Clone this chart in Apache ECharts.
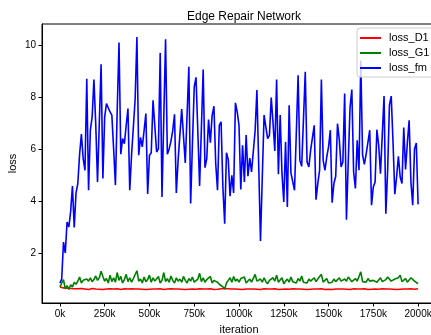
<!DOCTYPE html>
<html>
<head>
<meta charset="utf-8">
<script src="https://cdn.jsdelivr.net/npm/echarts@6/dist/echarts.min.js"></script>
<style>
  html, body { margin: 0; padding: 0; background: #fff; }
  #chart { width: 431px; height: 335px; }
</style>
</head>
<body>
<div id="chart"></div>
<script>
// iteration step of the logged losses (0k .. 2000k)
const iterStep = 10000;
const iterCount = 201;

const xTicks = [0, 250000, 500000, 750000, 1000000, 1250000, 1500000, 1750000, 2000000];
const yTicks = [2, 4, 6, 8, 10];

const lossD1 = [
  0.70,0.68,0.66,0.64,0.65,0.63,0.64,0.62,0.63,0.61,
  0.63,0.62,0.64,0.61,0.62,0.63,0.60,0.62,0.64,0.61,
  0.62,0.63,0.61,0.62,0.60,0.63,0.62,0.61,0.63,0.60,
  0.62,0.61,0.63,0.62,0.60,0.62,0.63,0.61,0.62,0.60,
  0.63,0.61,0.62,0.60,0.62,0.63,0.61,0.62,0.60,0.62,
  0.61,0.63,0.62,0.60,0.62,0.61,0.63,0.62,0.60,0.61,
  0.62,0.60,0.63,0.61,0.62,0.60,0.62,0.63,0.61,0.62,
  0.60,0.62,0.61,0.63,0.62,0.60,0.61,0.62,0.63,0.61,
  0.62,0.60,0.62,0.61,0.63,0.62,0.60,0.62,0.61,0.62,
  0.63,0.62,0.64,0.66,0.63,0.61,0.62,0.60,0.62,0.63,
  0.61,0.62,0.60,0.63,0.62,0.61,0.62,0.60,0.62,0.63,
  0.61,0.62,0.60,0.62,0.63,0.61,0.62,0.60,0.62,0.61,
  0.63,0.62,0.60,0.62,0.61,0.63,0.62,0.60,0.61,0.62,
  0.63,0.61,0.62,0.60,0.62,0.63,0.61,0.62,0.60,0.62,
  0.61,0.63,0.62,0.60,0.62,0.61,0.63,0.62,0.60,0.62,
  0.61,0.62,0.60,0.63,0.62,0.61,0.62,0.60,0.62,0.63,
  0.61,0.62,0.60,0.62,0.63,0.61,0.62,0.60,0.62,0.61,
  0.63,0.62,0.60,0.62,0.61,0.63,0.62,0.60,0.61,0.62,
  0.63,0.61,0.62,0.60,0.62,0.63,0.61,0.62,0.60,0.62,
  0.61,0.63,0.62,0.60,0.62,0.61,0.63,0.62,0.61,0.62,
  0.63
];

const lossG1 = [
  0.70,0.72,0.98,0.62,0.75,0.60,0.78,0.70,0.88,0.80,
  0.92,1.08,0.85,0.95,0.88,1.00,0.92,1.05,0.90,0.98,
  1.12,0.95,1.05,1.30,1.10,0.92,1.02,0.85,1.15,0.90,
  1.05,0.88,1.25,0.95,1.10,0.85,0.98,1.18,0.90,1.05,
  0.88,1.02,0.95,1.32,0.92,1.00,0.85,1.08,0.90,0.98,
  1.15,0.88,1.05,0.92,0.98,1.10,0.85,0.95,1.25,0.90,
  1.02,0.88,1.12,0.95,0.85,1.05,0.92,1.00,0.88,1.10,
  0.95,0.85,1.02,0.92,1.08,0.88,0.95,1.00,1.22,0.90,
  1.05,0.88,0.98,0.92,1.10,0.85,0.95,1.02,0.88,0.80,
  0.75,0.70,0.62,0.85,0.95,1.05,0.88,1.10,0.92,1.00,
  0.88,1.02,0.95,1.08,0.85,0.92,1.00,0.88,0.95,1.18,
  0.92,0.85,1.00,0.88,1.05,0.90,0.82,0.95,0.88,1.05,
  0.92,1.15,0.88,0.95,1.05,0.82,0.92,1.00,0.88,1.08,
  0.90,0.95,0.85,1.02,0.92,1.12,0.88,0.95,0.85,1.00,
  0.92,0.85,1.05,0.90,0.95,1.10,1.18,0.88,0.95,1.02,
  0.85,0.92,0.88,1.00,0.90,0.85,1.05,0.92,0.88,1.00,
  0.92,1.08,1.15,0.90,0.85,1.02,0.92,1.10,1.28,0.90,
  0.95,0.88,1.02,0.92,0.85,0.95,1.00,0.88,0.92,1.05,
  0.90,0.85,0.98,1.08,1.15,0.92,0.88,1.00,0.95,1.05,
  1.15,0.90,0.95,1.02,0.88,0.92,1.05,1.12,0.92,0.85,
  0.82
];

const lossFm = [
  0.85,1.00,2.42,2.00,3.19,3.00,3.60,4.57,2.98,4.31,
  4.67,5.80,6.57,5.63,5.18,8.70,4.41,6.72,7.23,8.67,
  6.97,4.73,7.00,9.25,4.86,7.23,7.74,7.77,7.42,7.30,
  6.00,4.61,7.50,10.09,5.80,6.40,6.20,6.90,7.55,4.41,
  5.76,5.80,7.90,10.30,5.76,6.44,6.08,6.70,7.36,4.27,
  5.76,5.85,7.87,7.93,5.88,6.00,9.69,4.15,7.20,10.21,
  5.80,6.00,6.30,6.70,7.33,4.31,5.56,5.56,7.53,7.46,
  5.46,7.30,9.16,3.90,6.20,8.38,8.75,6.70,4.58,6.80,
  9.05,5.28,5.63,7.13,6.24,7.29,7.64,5.44,4.41,6.91,
  7.04,4.54,3.13,5.85,5.59,4.18,4.99,4.31,7.77,7.42,
  6.91,4.44,6.14,4.73,6.53,4.95,5.65,5.12,5.16,6.70,
  8.26,5.40,2.46,4.90,7.30,6.84,6.40,6.53,7.97,7.00,
  5.92,8.67,5.03,7.30,5.05,3.96,6.27,3.77,7.68,5.08,
  5.12,4.41,6.60,8.83,5.56,5.33,5.33,8.96,5.50,5.31,
  5.95,6.00,6.91,4.05,4.67,5.18,8.67,5.56,5.18,5.69,
  6.08,6.72,3.93,4.67,4.95,6.97,6.36,5.31,5.50,8.13,
  3.28,5.50,7.59,8.28,5.12,4.48,6.33,5.18,9.40,5.76,
  5.41,5.80,5.85,6.72,3.84,4.54,4.73,6.74,6.14,5.05,
  5.03,8.03,3.51,5.18,7.68,8.03,6.27,4.26,4.92,5.72,
  4.92,4.67,6.82,5.21,6.23,7.10,4.73,3.84,6.00,6.23,
  3.87
];

const fontName = '"Liberation Sans", Arial, sans-serif';

function toPairs(values) {
  const out = [];
  for (let i = 0; i < iterCount; i++) {
    out.push([i * iterStep, values[i]]);
  }
  return out;
}

function lineSeries(name, values, color) {
  return {
    name: name,
    type: 'line',
    data: toPairs(values),
    symbol: 'none',
    smooth: false,
    animation: false,
    lineStyle: { color: color, width: 1.6 },
    itemStyle: { color: color }
  };
}

function getLineOption() {
  const option = {
    backgroundColor: '#fff',
    textStyle: { fontFamily: fontName },
    title: {
      text: 'Edge Repair Network',
      left: 239,
      textAlign: 'center',
      top: 6,
      textStyle: { fontFamily: fontName, fontSize: 12, fontWeight: 'normal', color: '#000' }
    },
    legend: {
      orient: 'vertical',
      left: 357,
      top: 28,
      padding: [4, 6, 3, 3],
      itemGap: 3,
      itemWidth: 21,
      itemHeight: 2,
      icon: 'rect',
      backgroundColor: 'rgba(255,255,255,0.8)',
      borderColor: '#cccccc',
      borderWidth: 1,
      borderRadius: 3,
      textStyle: { fontFamily: fontName, fontSize: 11, color: '#000', lineHeight: 12, padding: [0, 0, 0, 3] },
      data: ['loss_D1', 'loss_G1', 'loss_fm']
    },
    grid: {
      left: 42,
      top: 24,
      right: -5,
      bottom: 32,
      show: true,
      borderColor: '#000',
      borderWidth: 1,
      containLabel: false,
      outerBoundsMode: 'none'
    },
    xAxis: {
      type: 'value',
      min: -100000,
      max: 2100000,
      name: 'iteration',
      nameLocation: 'middle',
      nameGap: 21,
      nameMoveOverlap: false,
      nameTextStyle: { fontFamily: fontName, fontSize: 11, color: '#000' },
      splitLine: { show: false },
      axisLine: { show: true, onZero: false, lineStyle: { color: '#000', width: 1 } },
      axisTick: { show: true, length: 3.5, customValues: xTicks, lineStyle: { color: '#000' } },
      axisLabel: {
        customValues: xTicks,
        fontFamily: fontName,
        fontSize: 10,
        color: '#000',
        margin: 6,
        formatter: function (v) { return (v / 1000) + 'k'; }
      }
    },
    yAxis: {
      type: 'value',
      min: 0.08,
      max: 10.8,
      name: 'loss',
      nameLocation: 'middle',
      nameGap: 24,
      nameMoveOverlap: false,
      nameTextStyle: { fontFamily: fontName, fontSize: 11, color: '#000' },
      splitLine: { show: false },
      axisLine: { show: true, onZero: false, lineStyle: { color: '#000', width: 1 } },
      axisTick: { show: true, length: 3.5, customValues: yTicks, lineStyle: { color: '#000' } },
      axisLabel: {
        customValues: yTicks,
        fontFamily: fontName,
        fontSize: 10,
        color: '#000',
        margin: 6
      }
    },
    series: [
      lineSeries('loss_D1', lossD1, '#ff0000'),
      lineSeries('loss_G1', lossG1, '#008000'),
      lineSeries('loss_fm', lossFm, '#0000ff')
    ]
  };
  return option;
}

const chart = echarts.init(document.getElementById('chart'), null, { renderer: 'canvas' });
chart.setOption(getLineOption());
</script>
</body>
</html>
